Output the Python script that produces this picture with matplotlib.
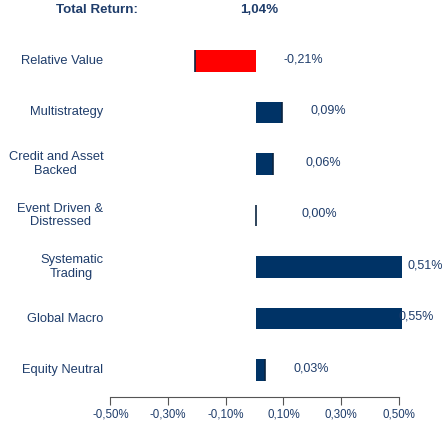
import matplotlib.pyplot as plt

plt.rcParams['font.family'] = ['Liberation Sans', 'DejaVu Sans']

categories = ["Relative Value", "Multistrategy", "Credit and Asset\nBacked",
              "Event Driven &\nDistressed", "Systematic\nTrading", "Global Macro",
              "Equity Neutral"]
returns = [-0.21, 0.09, 0.06, 0.00, 0.51, 0.55, 0.03]
value_labels = ["-0,21%", "0,09%", "0,06%", "0,00%", "0,51%", "0,55%", "0,03%"]
tick_values = [-0.5, -0.3, -0.1, 0.1, 0.3, 0.5]
tick_labels = ["-0,50%", "-0,30%", "-0,10%", "0,10%", "0,30%", "0,50%"]
total_label = "Total Return:"
total_value = "1,04%"

# where each value label starts (data units), the original placed them by hand
label_x = [0.099, 0.192, 0.175, 0.161, 0.529, 0.497, 0.133]

navy = '#003366'
txt = '#1f3d6b'

fig = plt.figure(figsize=(4.48, 4.21), dpi=100)
ax = fig.add_axes([0.2464, 0.057, 0.6504, 0.8593])

ypos = list(range(len(categories)))
colors = ['#ff0000' if v < 0 else navy for v in returns]
ax.barh(ypos, returns, height=0.42, color=colors, linewidth=0, left=0.005)
# little dark shadow at the bar ends
for y, v in zip(ypos, returns):
    ax.plot([v + 0.005, v + 0.005], [y - 0.21, y + 0.21], color='#0a2440', lw=1.2,
            solid_capstyle='butt')

for y, v, lx in zip(ypos, value_labels, label_x):
    ax.text(lx, y - 0.03, v, ha='left', va='center', fontsize=9, color=txt)

for y, c in zip(ypos, categories):
    ax.text(-0.525, y, c, ha='right', va='center', multialignment='center',
            fontsize=9.3, color=txt, linespacing=1.2)

ax.set_xlim(-0.5, 0.51)
ax.set_ylim(6.524, -0.5)
ax.set_yticks([])
ax.set_xticks(tick_values)
ax.set_xticklabels(tick_labels, fontsize=8.3, color=txt)
ax.tick_params(axis='x', direction='out', length=6, color='#555555', pad=2)

for s in ['top', 'right', 'left']:
    ax.spines[s].set_visible(False)
ax.spines['bottom'].set_bounds(-0.5, 0.5)
ax.spines['bottom'].set_color('#555555')

fig.text(97 / 448, 1 - 10 / 421, total_label, ha='center', va='center',
         fontsize=9.6, fontweight='bold', color=txt)
fig.text(259 / 448, 1 - 10 / 421, total_value, ha='center', va='center',
         fontsize=9.6, fontweight='bold', color=txt)

fig.savefig('out.png', dpi=100)
